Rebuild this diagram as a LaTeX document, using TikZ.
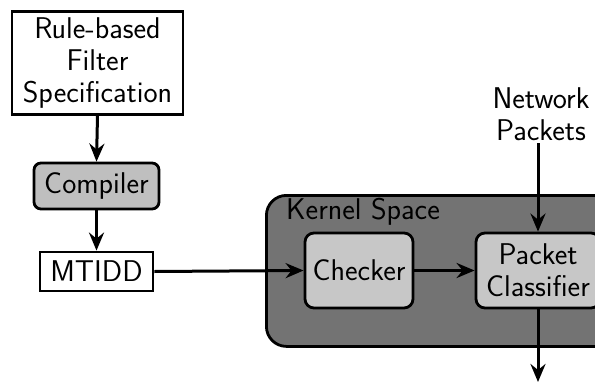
\documentclass[tikz,border=0pt]{standalone}
\usetikzlibrary{arrows.meta}
\begin{document}
\begin{tikzpicture}[x=1pt,y=-1pt,
  every node/.style={font=\sffamily\fontsize{30}{32}\selectfont, align=center, inner sep=0pt},
  box/.style={draw=black, line width=2.8pt},
  arr/.style={line width=3pt, -{Stealth[length=18pt,width=15pt,inset=6pt]}}]
\useasboundingbox (0,0) rectangle (595,383);
\node[box, fill=white, minimum width=171pt, minimum height=103pt] (spec) at (97.5,63) {Rule-based\\Filter\\Specification};
\node[box, fill=gray!50, rounded corners=7pt, minimum width=125pt, minimum height=46pt] (comp) at (96.5,186) {Compiler};
\node[box, fill=white, minimum width=113pt, minimum height=39pt] (mtidd) at (96.5,271.5) {MTIDD};
\node[box, fill=black!55, rounded corners=20pt, minimum width=360pt, minimum height=151pt, anchor=north west] (kern) at (265,194) {};
\node[anchor=west] (klab) at (286,212) {Kernel Space};
\node[box, fill=black!22, rounded corners=9pt, minimum width=108pt, minimum height=75pt] (chk) at (359,270.5) {Checker};
\node[box, fill=black!22, rounded corners=9pt, minimum width=124pt, minimum height=75pt] (cls) at (538,270.5) {Packet\\Classifier};
\node (net) at (541,114) {Network\\Packets};
\coordinate (out) at (538,382);
\draw[arr] (spec.south) -- (comp.north);
\draw[arr] (comp.south) -- (mtidd.north);
\draw[arr] (mtidd.east) -- (chk.west);
\draw[arr] (chk.east) -- (cls.west);
\draw[arr] (538,143) -- (cls.north);
\draw[arr] (cls.south) -- (out);
\end{tikzpicture}
\end{document}
